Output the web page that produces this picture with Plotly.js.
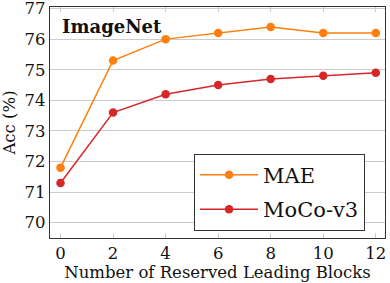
<!DOCTYPE html>
<html>
<head>
<meta charset="utf-8">
<script src="https://cdn.plot.ly/plotly-3.0.1.min.js"></script>
<style>html,body{margin:0;padding:0;background:#fff;}#chart{width:390px;height:283px;}</style>
</head>
<body>
<div id="chart"></div>
<script>
const blocks = [0, 2, 4, 6, 8, 10, 12];
const maeAcc = [71.8, 75.3, 76.0, 76.2, 76.4, 76.2, 76.2];
const mocoAcc = [71.3, 73.6, 74.2, 74.5, 74.7, 74.8, 74.9];
const yTicks = [70, 71, 72, 73, 74, 75, 76, 77];

const font = 'DejaVu Serif';
const traces = [
  {x: blocks, y: maeAcc, name: 'MAE', mode: 'lines+markers', legendgroup: 'a',
   line: {color: '#ff7f0e', width: 1.5}, marker: {color: '#ff7f0e', size: 8.5}},
  {x: blocks, y: mocoAcc, name: 'MoCo-v3', mode: 'lines+markers', legendgroup: 'b',
   line: {color: '#d62728', width: 1.5}, marker: {color: '#d62728', size: 8.5}}
];
const layout = {
  width: 390, height: 283,
  margin: {l: 50, r: 5, t: 7, b: 45},
  paper_bgcolor: '#fff', plot_bgcolor: '#fff',
  font: {family: font, color: '#111', size: 16},
  showlegend: true,
  legend: {x: 0.43, y: 0.365, xanchor: 'left', yanchor: 'top',
    bgcolor: '#fff', bordercolor: '#333', borderwidth: 1,
    traceorder: 'grouped', tracegroupgap: 4,
    font: {family: font, size: 21, color: '#111'}, itemwidth: 58},
  xaxis: {range: [-0.4, 12.35], tickvals: blocks, ticks: 'inside', ticklen: 5,
    tickcolor: '#ccc', showgrid: false, zeroline: false,
    showline: true, linecolor: '#333', linewidth: 1.2, mirror: 'ticks',
    tickfont: {family: font, size: 16.5},
    title: {text: 'Number of Reserved Leading Blocks', font: {family: font, size: 16.5}, standoff: 4}},
  yaxis: {range: [69.5, 77.05], tickvals: yTicks, ticks: '', showgrid: true,
    gridcolor: '#ccc', gridwidth: 1, zeroline: false, ticklabeloverflow: 'allow',
    showline: true, linecolor: '#333', linewidth: 1.2, mirror: true,
    tickfont: {family: font, size: 16.5},
    title: {text: 'Acc (%)', font: {family: font, size: 16.5}, standoff: 6}},
  annotations: [{text: '<b>ImageNet</b>', xref: 'paper', yref: 'paper', x: 0.03, y: 0.97,
    xanchor: 'left', yanchor: 'top', showarrow: false,
    font: {family: font, size: 18, color: '#111'}}]
};
Plotly.newPlot('chart', traces, layout, {displayModeBar: false, staticPlot: true});
</script>
</body>
</html>
